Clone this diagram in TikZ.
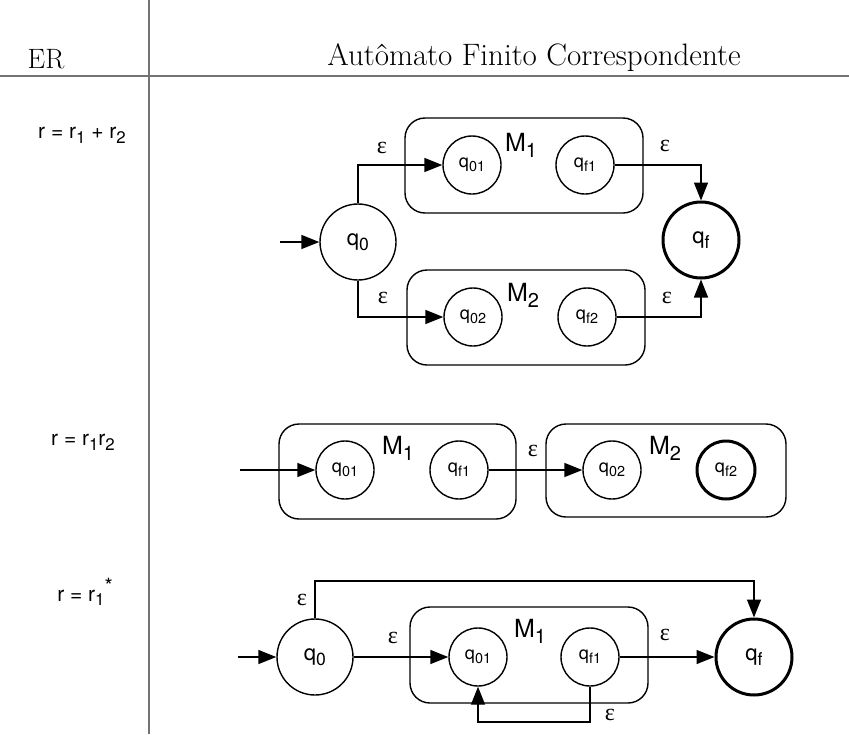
\documentclass[tikz,border=0pt]{standalone}
\usepackage{fontspec}
\newfontfamily\hlv{TeX Gyre Heros}
\newfontfamily\grk{Liberation Serif}
\usetikzlibrary{arrows.meta}
\newcommand\lowsub[1]{\raisebox{-0.45ex}{\scalebox{0.8}{#1}}}
\tikzset{
  st/.style={circle, draw, line width=1.4pt, minimum size=58pt, inner sep=0pt, font=\hlv\fontsize{18}{18}\selectfont},
  bigst/.style={st, minimum size=76pt, font=\hlv\fontsize{22}{22}\selectfont},
  finst/.style={line width=3pt},
  mbox/.style={draw, rounded corners=20pt, line width=1.4pt, inner sep=0pt},
  arr/.style={line width=1.4pt, -{Triangle[length=18pt,width=14pt]}},
  eps/.style={font=\grk\fontsize{24}{24}\selectfont, inner sep=0pt},
  mlab/.style={font=\hlv\fontsize{25}{25}\selectfont, inner sep=0pt},
  rlab/.style={font=\hlv\fontsize{21}{21}\selectfont, inner sep=0pt},
  rule/.style={draw=black!55, line width=1.6pt}
}
\begin{document}
\begin{tikzpicture}[x=1pt,y=-1pt]
\useasboundingbox (0,0) rectangle (849,734);
% header
\coordinate (hl) at (0,76);
\coordinate (hr) at (849,76);
\coordinate (vt) at (149,0);
\coordinate (vb) at (149,734);
\draw[rule] (hl) -- (hr);
\draw[rule] (vt) -- (vb);
\node[font=\fontsize{28}{28}\selectfont] (hER) at (46,59) {ER};
\node[font=\fontsize{31}{31}\selectfont] (hAF) at (534,58) {Autômato Finito Correspondente};

% ---------------- row 1: r = r1 + r2
\node[rlab] (r1) at (82,135) {r = r\lowsub{1} + r\lowsub{2}};
\node[mbox, minimum width=238pt, minimum height=95pt] (A1) at (524,165.5) {};
\node[mbox, minimum width=238pt, minimum height=95pt] (A2) at (526,317.5) {};
\node[bigst] (aq0) at (358,242) {q\lowsub{0}};
\node[st] (aq01) at (472,165) {q\lowsub{01}};
\node[st] (aqf1) at (585,165) {q\lowsub{f1}};
\node[st] (aq02) at (473,317) {q\lowsub{02}};
\node[st] (aqf2) at (587,317) {q\lowsub{f2}};
\node[bigst, finst] (aqf) at (701,240) {q\lowsub{f}};
\node[mlab] (aM1) at (521,145) {M\lowsub{1}};
\node[mlab] (aM2) at (523,295) {M\lowsub{2}};
\coordinate (ain) at (280,242);
\draw[arr] (ain) -- (aq0.west);
\draw[arr] (aq0.north) |- (aq01.west);
\draw[arr] (aq0.south) |- (aq02.west);
\draw[arr] (aqf1.east) -| (aqf.north);
\draw[arr] (aqf2.east) -| (aqf.south);
\node[eps] (ae1) at (382,148) {ε};
\node[eps] (ae2) at (383,298) {ε};
\node[eps] (ae3) at (665,146) {ε};
\node[eps] (ae4) at (667,298) {ε};

% ---------------- row 2: r = r1 r2
\node[rlab] (r2) at (83,442) {r = r\lowsub{1}r\lowsub{2}};
\node[mbox, minimum width=237pt, minimum height=95pt] (B1) at (397.5,471.5) {};
\node[mbox, minimum width=240pt, minimum height=93pt] (B2) at (666,470.5) {};
\node[st] (bq01) at (345,470) {q\lowsub{01}};
\node[st] (bqf1) at (459,470) {q\lowsub{f1}};
\node[st] (bq02) at (612,470) {q\lowsub{02}};
\node[st, finst] (bqf2) at (726,470) {q\lowsub{f2}};
\node[mlab] (bM1) at (398,448) {M\lowsub{1}};
\node[mlab] (bM2) at (665,448) {M\lowsub{2}};
\coordinate (bin) at (240,470);
\draw[arr] (bin) -- (bq01.west);
\draw[arr] (bqf1.east) -- (bq02.west);
\node[eps] (be1) at (533,451) {ε};

% ---------------- row 3: r = r1*
\node[rlab] (r3) at (85,592) {r = r\lowsub{1}\raisebox{0.7ex}{*}};
\node[mbox, minimum width=238pt, minimum height=96pt] (C1) at (529,655) {};
\node[bigst] (cq0) at (315,657) {q\lowsub{0}};
\node[st] (cq01) at (478,657) {q\lowsub{01}};
\node[st] (cqf1) at (590,657) {q\lowsub{f1}};
\node[bigst, finst] (cqf) at (754,657) {q\lowsub{f}};
\node[mlab] (cM1) at (530,631) {M\lowsub{1}};
\coordinate (cin) at (238,657);
\coordinate (ctop) at (0,581);
\coordinate (cbot) at (0,722);
\draw[arr] (cin) -- (cq0.west);
\draw[arr] (cq0.east) -- (cq01.west);
\draw[arr] (cqf1.east) -- (cqf.west);
\draw[arr] (cq0.north) -- (cq0.north |- ctop) -| (cqf.north);
\draw[arr] (cqf1.south) -- (cqf1.south |- cbot) -| (cq01.south);
\node[eps] (ce1) at (302,600) {ε};
\node[eps] (ce2) at (393,638) {ε};
\node[eps] (ce3) at (665,635) {ε};
\node[eps] (ce4) at (610,715) {ε};
\end{tikzpicture}
\end{document}
